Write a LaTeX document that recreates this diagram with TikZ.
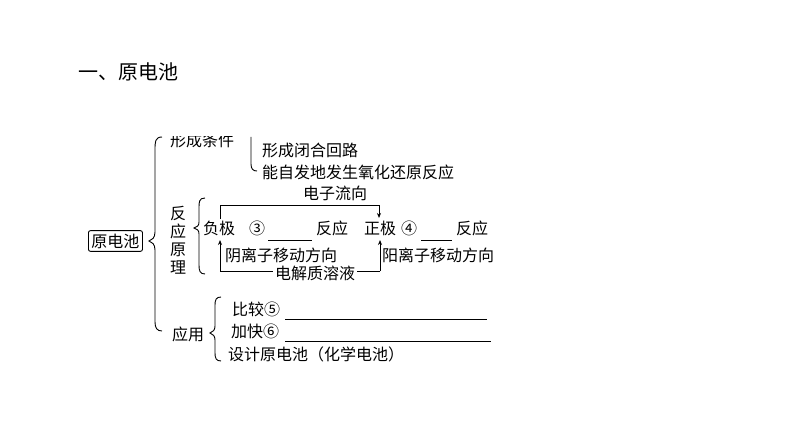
\documentclass[tikz,border=0pt]{standalone}
\usepackage{fontspec}
\setmainfont{Noto Sans CJK SC}
\newfontfamily\cjkb[BoldFont={Noto Sans CJK SC Bold}]{Noto Sans CJK SC}
\usetikzlibrary{arrows.meta,decorations.pathreplacing}
\begin{document}
\begin{tikzpicture}[x=1pt,y=-1pt,
  t/.style={inner sep=0pt,anchor=west,font=\fontsize{16}{16}\selectfont},
  ln/.style={line width=0.9pt},
  ar/.style={ln,-{Stealth[length=5pt,width=4pt]}}]
\useasboundingbox (0,0) rectangle (794,446);
\node[t,anchor=west,font=\fontsize{20}{20}\selectfont] (title) at (78,72) {一、原电池};
\begin{scope}
\clip (80,137) rectangle (505,370);
\node[t] (xc) at (170,140) {形成条件};
\end{scope}
\node[t,draw,ln,rounded corners=2pt,inner sep=3pt] (ydc) at (88,241) {原电池};
\draw[ln] (162,137) .. controls (155,137) and (155,142) .. (155,150) -- (155,232) .. controls (155,238) and (152,240) .. (149,241) .. controls (152,242) and (155,244) .. (155,250) -- (155,322) .. controls (155,328) and (157,331) .. (162,331);
\draw[ln] (251,137) -- (251,164) .. controls (251,169) and (253,171) .. (257,171);
\node[t] (c1) at (262,150) {形成闭合回路};
\node[t] (c2) at (262,172) {能自发地发生氧化还原反应};
\node[t,align=center,anchor=center,font=\fontsize{16}{18}\selectfont] (fy) at (178,240) {反\\应\\原\\理};
\draw[ln] (205,198) .. controls (199,198) and (199,202) .. (199,208) -- (199,222) .. controls (199,226) and (197,227) .. (194,228) .. controls (197,229) and (199,230) .. (199,234) -- (199,265) .. controls (199,271) and (200,274) .. (205,274);
\node[t] (fj) at (203,228) {负极};
\node[t] (n3) at (249,228) {③};
\coordinate (u3a) at (268,240); \coordinate (u3b) at (312,240);
\draw[ln] (u3a) -- (u3b);
\node[t] (r1) at (316,228) {反应};
\node[t] (zj) at (364,228) {正极};
\node[t] (n4) at (401,228) {④};
\coordinate (u4a) at (421,240); \coordinate (u4b) at (452,240);
\draw[ln] (u4a) -- (u4b);
\node[t] (r2) at (456,228) {反应};
\coordinate (a1) at (220,219); \coordinate (a1t) at (220,205);
\coordinate (a2t) at (379,205); \coordinate (a2) at (379,218);
\draw[ar] (a1) -- (a1t) -- (a2t) -- (a2);
\node[t,anchor=center] (dz) at (335,193) {电子流向};
\node[t] (yin) at (225,255) {阴离子移动方向};
\node[t] (yang) at (382,255) {阳离子移动方向};
\coordinate (b1) at (220,271); \coordinate (b1t) at (220,240);
\coordinate (b2) at (380,271); \coordinate (b2t) at (380,240);
\draw[ar] (b1) -- (b1t);
\draw[ar] (b2) -- (b2t);
\draw[ln] (b1) -- (b2);
\node[t,anchor=center,fill=white,inner xsep=2pt] (dj) at (315,273) {电解质溶液};
\node[t] (yy) at (172,334) {应用};
\draw[ln] (221,297) .. controls (216,297) and (215,300) .. (215,305) -- (215,326) .. controls (215,330) and (213,332) .. (210,333) .. controls (213,334) and (215,336) .. (215,340) -- (215,353) .. controls (215,358) and (216,361) .. (221,361);
\node[t] (bj) at (232,309) {比较⑤};
\coordinate (l5a) at (285,319); \coordinate (l5b) at (487,319);
\draw[ln] (l5a) -- (l5b);
\node[t] (jk) at (231,331) {加快⑥};
\coordinate (l6a) at (285,341); \coordinate (l6b) at (491,341);
\draw[ln] (l6a) -- (l6b);
\node[t] (sj) at (228,354) {设计原电池（化学电池）};
\end{tikzpicture}
\end{document}
